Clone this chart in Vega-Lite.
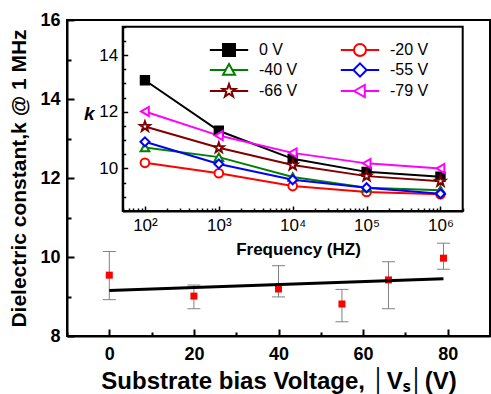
{
  "$schema": "https://vega.github.io/schema/vega-lite/v6.json",
  "width": 423,
  "height": 316,
  "autosize": "none",
  "padding": {"left": 67, "top": 20, "right": 1, "bottom": 58},
  "background": "white",
  "config": {
    "font": "Liberation Sans",
    "view": {"stroke": "black", "strokeWidth": 2},
    "axis": {"grid": false, "domainColor": "black", "tickColor": "black", "labelColor": "black", "titleColor": "black"}
  },
  "datasets": {
    "main": [
      {"v": 0, "k": 9.54, "lo": 8.92, "hi": 10.14},
      {"v": 20, "k": 9.01, "lo": 8.69, "hi": 9.29},
      {"v": 40, "k": 9.19, "lo": 8.99, "hi": 9.78},
      {"v": 55, "k": 8.81, "lo": 8.36, "hi": 9.18},
      {"v": 66, "k": 9.42, "lo": 8.69, "hi": 9.88},
      {"v": 79, "k": 9.97, "lo": 9.69, "hi": 10.35}
    ],
    "fit": [
      {"v": 0, "k": 9.15},
      {"v": 79, "k": 9.45}
    ],
    "inset": [
      {"s": "0 V", "f": 100, "k": 13.11}, {"s": "0 V", "f": 1000, "k": 11.33}, {"s": "0 V", "f": 10000, "k": 10.34}, {"s": "0 V", "f": 100000, "k": 9.88}, {"s": "0 V", "f": 1000000, "k": 9.71},
      {"s": "-20 V", "f": 100, "k": 10.2}, {"s": "-20 V", "f": 1000, "k": 9.83}, {"s": "-20 V", "f": 10000, "k": 9.38}, {"s": "-20 V", "f": 100000, "k": 9.17}, {"s": "-20 V", "f": 1000000, "k": 9.09},
      {"s": "-40 V", "f": 100, "k": 10.74}, {"s": "-40 V", "f": 1000, "k": 10.4}, {"s": "-40 V", "f": 10000, "k": 9.7}, {"s": "-40 V", "f": 100000, "k": 9.32}, {"s": "-40 V", "f": 1000000, "k": 9.23},
      {"s": "-55 V", "f": 100, "k": 10.94}, {"s": "-55 V", "f": 1000, "k": 10.16}, {"s": "-55 V", "f": 10000, "k": 9.6}, {"s": "-55 V", "f": 100000, "k": 9.32}, {"s": "-55 V", "f": 1000000, "k": 9.11},
      {"s": "-66 V", "f": 100, "k": 11.48}, {"s": "-66 V", "f": 1000, "k": 10.73}, {"s": "-66 V", "f": 10000, "k": 10.12}, {"s": "-66 V", "f": 100000, "k": 9.73}, {"s": "-66 V", "f": 1000000, "k": 9.55},
      {"s": "-79 V", "f": 100, "k": 12.01}, {"s": "-79 V", "f": 1000, "k": 11.16}, {"s": "-79 V", "f": 10000, "k": 10.55}, {"s": "-79 V", "f": 100000, "k": 10.18}, {"s": "-79 V", "f": 1000000, "k": 10.0}
    ],
    "frame": [
      {"x1": 50, "x2": 2000000, "y1": 8.5, "y2": 15}
    ]
  },
  "layer": [
    {
      "data": {"name": "main"},
      "encoding": {
        "x": {
          "field": "v", "type": "quantitative", "title": "Substrate bias Voltage, │Vₛ│(V)",
          "scale": {"domain": [-10, 90], "nice": false, "zero": false},
          "axis": {
            "values": [-10, 0, 10, 20, 30, 40, 50, 60, 70, 80, 90],
            "labelExpr": "datum.value % 20 == 0 ? datum.label : ''",
            "tickSize": {"condition": {"test": "datum.value % 20 == 0", "value": -7}, "value": -4},
            "tickWidth": 2, "domainWidth": 2,
            "labelFontSize": 18, "labelFontWeight": "bold", "labelPadding": 16,
            "titleFontSize": 24, "titleFontWeight": "bold", "titlePadding": 6
          }
        },
        "y": {
          "field": "k", "type": "quantitative", "title": "Dielectric constant,k @ 1 MHz",
          "scale": {"domain": [8, 16], "nice": false, "zero": false},
          "axis": {
            "values": [8, 9, 10, 11, 12, 13, 14, 15, 16],
            "labelExpr": "datum.value % 2 == 0 ? datum.label : ''",
            "tickSize": {"condition": {"test": "datum.value % 2 == 0", "value": -7}, "value": -4},
            "tickWidth": 2, "domainWidth": 2,
            "labelFontSize": 18, "labelFontWeight": "bold", "labelPadding": 14,
            "titleFontSize": 21, "titleFontWeight": "bold", "titlePadding": 10
          }
        }
      },
      "layer": [
        {
          "mark": {"type": "rule", "color": "#808080", "strokeWidth": 1},
          "encoding": {
            "y": {"field": "lo", "type": "quantitative", "title": "Dielectric constant,k @ 1 MHz"},
            "y2": {"field": "hi"}
          }
        },
        {
          "mark": {"type": "tick", "orient": "horizontal", "color": "#808080", "size": 13, "thickness": 1, "opacity": 1},
          "encoding": {"y": {"field": "lo", "type": "quantitative", "title": "Dielectric constant,k @ 1 MHz"}}
        },
        {
          "mark": {"type": "tick", "orient": "horizontal", "color": "#808080", "size": 13, "thickness": 1, "opacity": 1},
          "encoding": {"y": {"field": "hi", "type": "quantitative", "title": "Dielectric constant,k @ 1 MHz"}}
        },
        {
          "mark": {"type": "point", "shape": "square", "filled": true, "color": "#ff0000", "size": 49, "opacity": 1}
        },
        {
          "data": {"name": "fit"},
          "mark": {"type": "line", "color": "black", "strokeWidth": 3}
        }
      ]
    },
    {
      "layer": [
        {
          "data": {"name": "frame"},
          "mark": {"type": "rect", "fill": "white", "stroke": "black", "strokeWidth": 2},
          "encoding": {
            "x": {
              "field": "x1", "type": "quantitative", "title": null,
              "scale": {"type": "log", "domain": [50, 2000000], "range": [55.7, 395.7], "nice": false},
              "axis": {
                "orient": "bottom", "offset": -125, "zindex": 1, "domain": false, "labels": false, "title": null,
                "values": [50, 60, 70, 80, 90, 200, 300, 400, 500, 600, 700, 800, 900, 2000, 3000, 4000, 5000, 6000, 7000, 8000, 9000, 20000, 30000, 40000, 50000, 60000, 70000, 80000, 90000, 200000, 300000, 400000, 500000, 600000, 700000, 800000, 900000, 2000000],
                "tickSize": -3, "tickWidth": 1.5
              }
            },
            "x2": {"field": "x2"},
            "y": {
              "field": "y1", "type": "quantitative", "title": null,
              "scale": {"domain": [8.5, 15], "range": [191, 6.7], "nice": false, "zero": false},
              "axis": {
                "orient": "left", "offset": -55.7, "zindex": 1, "domain": false, "labels": false, "title": null,
                "values": [8.5, 9, 9.5, 10.5, 11, 11.5, 12.5, 13, 13.5, 14.5, 15],
                "tickSize": -3, "tickWidth": 1.5
              }
            },
            "y2": {"field": "y2"}
          }
        },
        {
          "data": {"name": "inset"},
          "mark": {"type": "line", "strokeWidth": 2},
          "encoding": {
            "x": {
              "field": "f", "type": "quantitative", "title": "Frequency (HZ)",
              "scale": {"type": "log", "domain": [50, 2000000], "range": [55.7, 395.7], "nice": false},
              "axis": {
                "orient": "bottom", "offset": -125, "zindex": 1,
                "values": [100, 1000, 10000, 100000, 1000000],
                "labelExpr": "'10' + (datum.value == 100 ? '²' : datum.value == 1000 ? '³' : datum.value == 10000 ? '⁴' : datum.value == 100000 ? '⁵' : '⁶')",
                "tickSize": -5, "tickWidth": 1.5, "domainWidth": 2,
                "labelFontSize": 17, "labelPadding": 11,
                "titleFontSize": 17, "titleFontWeight": "bold", "titleX": 231, "titleY": 43, "titleBaseline": "alphabetic"
              }
            },
            "y": {
              "field": "k", "type": "quantitative", "title": "k",
              "scale": {"domain": [8.5, 15], "range": [191, 6.7], "nice": false, "zero": false},
              "axis": {
                "orient": "left", "offset": -55.7, "zindex": 1,
                "values": [10, 12, 14],
                "tickSize": -5, "tickWidth": 1.5, "domainWidth": 2,
                "labelFontSize": 17, "labelPadding": 10,
                "titleFontSize": 19, "titleFontWeight": "bold", "titleFontStyle": "italic",
                "titleAngle": 0, "titleX": -34, "titleY": 93, "titleAlign": "center", "titleBaseline": "middle"
              }
            },
            "color": {
              "field": "s", "type": "nominal",
              "scale": {"domain": ["0 V", "-20 V", "-40 V", "-55 V", "-66 V", "-79 V"], "range": ["#000000", "#ff0000", "#008000", "#0000ff", "#800000", "#ff00ff"]},
              "legend": {
                "title": null, "orient": "none", "legendX": 154, "legendY": 22, "columns": 2, "direction": "horizontal",
                "symbolSize": 144, "symbolStrokeWidth": 2, "labelFontSize": 16, "labelColor": "black",
                "labelOffset": 22, "rowPadding": -1, "columnPadding": 38,
                "encode": {"symbols": {"update": {"fill": {"signal": "datum.value == '0 V' ? 'black' : 'white'"}, "strokeWidth": {"value": 2}, "opacity": {"value": 1}}}}
              }
            }
          }
        },
        {
          "data": {"name": "inset"},
          "transform": [{"filter": "datum.k > 100"}],
          "mark": {"type": "point", "strokeWidth": 2, "opacity": 1, "size": 144, "filled": false},
          "encoding": {
            "x": {"field": "f", "type": "quantitative", "title": "Frequency (HZ)", "scale": {"type": "log", "domain": [50, 2000000], "range": [55.7, 395.7], "nice": false}, "axis": null},
            "y": {"field": "k", "type": "quantitative", "title": "k", "scale": {"domain": [8.5, 15], "range": [191, 6.7], "nice": false, "zero": false}, "axis": null},
            "color": {
              "field": "s", "type": "nominal",
              "scale": {"domain": ["0 V", "-20 V", "-40 V", "-55 V", "-66 V", "-79 V"], "range": ["#000000", "#ff0000", "#008000", "#0000ff", "#800000", "#ff00ff"]},
              "legend": {
                "title": null, "orient": "none", "legendX": 154, "legendY": 22, "columns": 2, "direction": "horizontal",
                "symbolSize": 144, "symbolStrokeWidth": 2, "labelFontSize": 16, "labelColor": "black",
                "labelOffset": 22, "rowPadding": -1, "columnPadding": 38,
                "encode": {"symbols": {"update": {"fill": {"signal": "datum.value == '0 V' ? 'black' : 'white'"}, "strokeWidth": {"value": 2}, "opacity": {"value": 1}}}}
              }
            },
            "shape": {
              "field": "s", "type": "nominal",
              "scale": {"domain": ["0 V", "-20 V", "-40 V", "-55 V", "-66 V", "-79 V"], "range": [
                "M-3.2,0H-1M1,0H3.2M-1,-1H1V1H-1Z",
                "M-3.2,0H-1M1,0H3.2M1,0A1,1,0,1,1,-1,0A1,1,0,1,1,1,0Z",
                "M-3.2,0H-0.56M0.56,0H3.2M0,-1L1,0.8L-1,0.8Z",
                "M-3.2,0H-1.1M1.1,0H3.2M0,-1.1L1.1,0L0,1.1L-1.1,0Z",
                "M-3.2,0H-0.6M0.6,0H3.2M0,-1.15L0.27,-0.37L1.09,-0.36L0.44,0.14L0.68,0.93L0,0.46L-0.68,0.93L-0.44,0.14L-1.09,-0.36L-0.27,-0.37Z",
                "M-3.2,0H-1M0.8,0H3.2M-1,0L0.8,-1L0.8,1Z"
              ]},
              "legend": {
                "title": null, "orient": "none", "legendX": 154, "legendY": 22, "columns": 2, "direction": "horizontal",
                "symbolSize": 144, "symbolStrokeWidth": 2, "labelFontSize": 16, "labelColor": "black",
                "labelOffset": 22, "rowPadding": -1, "columnPadding": 38,
                "encode": {"symbols": {"update": {"fill": {"signal": "datum.value == '0 V' ? 'black' : 'white'"}, "strokeWidth": {"value": 2}, "opacity": {"value": 1}}}}
              }
            }
          }
        },
        {
          "data": {"name": "inset"},
          "encoding": {
            "x": {"field": "f", "type": "quantitative", "title": "Frequency (HZ)", "scale": {"type": "log", "domain": [50, 2000000], "range": [55.7, 395.7], "nice": false}, "axis": null},
            "y": {"field": "k", "type": "quantitative", "title": "k", "scale": {"domain": [8.5, 15], "range": [191, 6.7], "nice": false, "zero": false}, "axis": null},
            "stroke": {"field": "s", "type": "nominal", "scale": {"domain": ["0 V", "-20 V", "-40 V", "-55 V", "-66 V", "-79 V"], "range": ["#000000", "#ff0000", "#008000", "#0000ff", "#800000", "#ff00ff"]}, "legend": null},
            "fill": {"condition": {"test": "datum.s == '0 V'", "value": "black"}, "value": "white"}
          },
          "layer": [
            {"transform": [{"filter": "datum.s == '0 V'"}], "mark": {"type": "point", "shape": "square", "strokeWidth": 2, "opacity": 1, "size": 70, "filled": false}},
            {"transform": [{"filter": "datum.s == '-20 V'"}], "mark": {"type": "point", "shape": "circle", "strokeWidth": 2, "opacity": 1, "size": 75, "filled": false}},
            {"transform": [{"filter": "datum.s == '-40 V'"}], "mark": {"type": "point", "shape": "triangle-up", "strokeWidth": 2, "opacity": 1, "size": 75, "filled": false}},
            {"transform": [{"filter": "datum.s == '-55 V'"}], "mark": {"type": "point", "shape": "diamond", "strokeWidth": 2, "opacity": 1, "size": 80, "filled": false}},
            {"transform": [{"filter": "datum.s == '-66 V'"}], "mark": {"type": "point", "shape": "M0,-1.2L0.28,-0.39L1.14,-0.37L0.46,0.15L0.71,0.97L0,0.48L-0.71,0.97L-0.46,0.15L-1.14,-0.37L-0.28,-0.39Z", "strokeWidth": 2, "opacity": 1, "size": 75, "filled": false}},
            {"transform": [{"filter": "datum.s == '-79 V'"}], "mark": {"type": "point", "shape": "triangle-left", "strokeWidth": 2, "opacity": 1, "size": 80, "filled": false}}
          ]
        }
      ],
      "resolve": {"axis": {"x": "independent", "y": "independent"}}
    }
  ],
  "resolve": {"scale": {"x": "independent", "y": "independent", "color": "independent", "shape": "independent", "stroke": "independent"}}
}
